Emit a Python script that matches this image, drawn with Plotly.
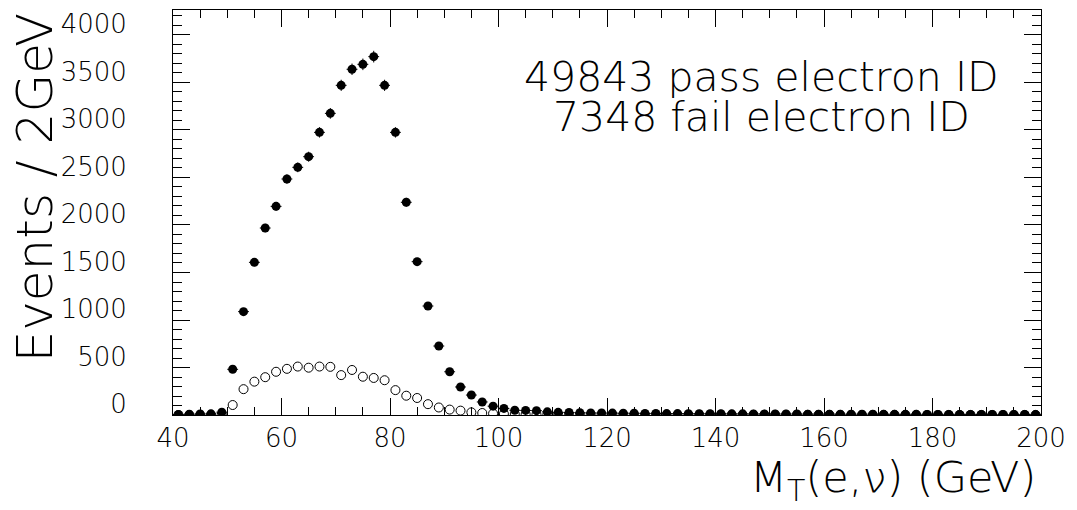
import numpy as np
import plotly.graph_objects as go

# bin centres (2 GeV bins)
mt_bins = list(range(41, 200, 2))

pass_counts = [5, 8, 10, 12, 30, 481, 1088, 1607, 1968, 2196, 2484, 2607, 2719, 2975, 3175,
               3470, 3639, 3691, 3772, 3470, 2975, 2239, 1614, 1147, 726, 455, 295, 210, 137,
               93, 69, 50, 48, 46, 33,
               28, 26, 24, 22, 21, 20, 19, 18, 17, 16,
               15, 15, 14, 14, 13, 13, 12, 12, 11, 11,
               10, 10, 10, 9, 9, 9, 8, 8, 8, 8,
               7, 7, 7, 7, 6, 6, 6, 6, 6, 5,
               5, 5, 5, 5, 4]

fail_counts = [0, 0, 1, 2, 5, 105, 272, 351, 398, 455, 486, 510, 498, 510, 507,
               420, 474, 403, 390, 366, 262, 203, 179, 114, 79, 57, 46, 28, 21,
               15, 12, 10, 8, 7, 6,
               5, 5, 5, 4, 4, 4, 4, 3, 3, 3,
               3, 3, 3, 2, 2, 2, 2, 2, 2, 2,
               2, 2, 2, 2, 1, 1, 1, 1, 1, 1,
               1, 1, 1, 1, 1, 1, 1, 1, 1, 1,
               1, 1, 1, 1, 1]

legend_lines = ["49843 pass electron ID", "7348 fail electron ID"]
x_title = "M<sub>T</sub>(e,\u03bd) (GeV)"
y_title = "Events / 2GeV"

FONT = "DejaVu Sans"
W = 200

fig = go.Figure()
fig.add_trace(go.Scatter(
    x=mt_bins, y=fail_counts, mode="markers",
    marker=dict(symbol="circle-open", size=9, color="black", line=dict(width=1, color="black")),
    showlegend=False, cliponaxis=True))
fig.add_trace(go.Scatter(
    x=mt_bins, y=pass_counts, mode="markers",
    marker=dict(symbol="circle", size=9, color="black"),
    error_y=dict(type="data", array=list(np.sqrt(pass_counts)), width=0, thickness=1, color="black"),
    error_x=dict(type="constant", value=1, width=0, thickness=1, color="black"),
    showlegend=False, cliponaxis=True))

axis_common = dict(showgrid=False, zeroline=False, showline=True, linecolor="black", linewidth=1,
                   mirror="allticks", ticks="inside", tickcolor="black", tickwidth=1)

fig.update_xaxes(range=[40, 200], tick0=40, dtick=20, ticklen=17,
                 minor=dict(dtick=5, ticklen=8, ticks="inside", tickcolor="black"),
                 tickfont=dict(family=FONT, size=26, color="black", weight=W),
                 ticklabelstandoff=0, **axis_common)
fig.update_yaxes(range=[0, 4263], tick0=0, dtick=500, ticklen=17,
                 minor=dict(dtick=100, ticklen=9, ticks="inside", tickcolor="black"),
                 tickfont=dict(family=FONT, size=26, color="black", weight=W),
                 ticklabelstandoff=40, ticklabelshift=-11, **axis_common)

fig.add_annotation(x=148.5, y=3558, xref="x", yref="y", text=legend_lines[0], showarrow=False,
                   font=dict(family=FONT, size=41, color="black", weight=W),
                   xanchor="center", yanchor="middle", height=42, valign="middle")
fig.add_annotation(x=148.5, y=3137, xref="x", yref="y", text=legend_lines[1], showarrow=False,
                   font=dict(family=FONT, size=41, color="black", weight=W),
                   xanchor="center", yanchor="middle", height=42, valign="middle")
fig.add_annotation(x=-0.1586, y=1.0, xref="paper", yref="paper", text=y_title, showarrow=False,
                   textangle=-90, font=dict(family=FONT, size=50, color="black", weight=W),
                   xanchor="center", yanchor="top")
fig.add_annotation(x=0.9965, y=-0.160, xref="paper", yref="paper", text=x_title, showarrow=False,
                   font=dict(family=FONT, size=43, color="black", weight=W),
                   xanchor="right", yanchor="middle")

fig.update_layout(width=1077, height=510, margin=dict(l=173, r=36, t=10, b=95),
                  paper_bgcolor="white", plot_bgcolor="white", showlegend=False)

fig.write_html("out.html")
